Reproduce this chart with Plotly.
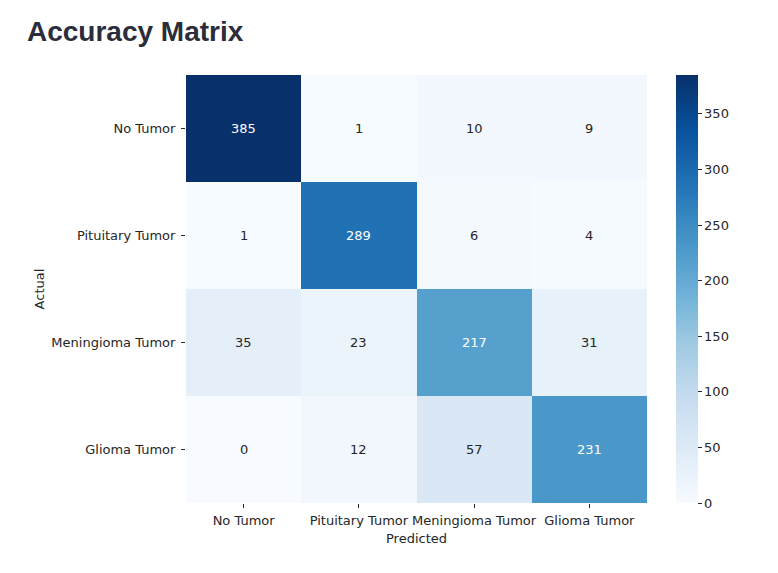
import plotly.graph_objects as go

categories = ["No Tumor", "Pituitary Tumor", "Meningioma Tumor", "Glioma Tumor"]
values = [
    [385, 1, 10, 9],
    [1, 289, 6, 4],
    [35, 23, 217, 31],
    [0, 12, 57, 231],
]
cbar_ticks = [0, 50, 100, 150, 200, 250, 300, 350]

blues = ["#f7fbff", "#deebf7", "#c6dbef", "#9ecae1", "#6baed6",
         "#4292c6", "#2171b5", "#08519c", "#08306b"]
colorscale = [[i / (len(blues) - 1), c] for i, c in enumerate(blues)]

vmax = max(max(r) for r in values)
vmin = min(min(r) for r in values)

fig = go.Figure()
fig.add_trace(go.Heatmap(
    z=values, x=categories, y=categories,
    colorscale=colorscale, zmin=vmin, zmax=vmax,
    xgap=0, ygap=0,
    colorbar=dict(
        thickness=22, len=1.0, lenmode="fraction", y=0.5, yanchor="middle",
        x=1.062, xanchor="left", xpad=0, ypad=0, outlinewidth=0,
        tickvals=cbar_ticks, ticks="outside", ticklen=4, tickcolor="#262626",
        tickfont=dict(family="DejaVu Sans", size=13, color="#262626"),
    ),
    hoverongaps=False,
))

annotations = []
for i, row in enumerate(values):
    for j, v in enumerate(row):
        annotations.append(dict(
            x=categories[j], y=categories[i], text=str(v), showarrow=False,
            font=dict(family="DejaVu Sans", size=13,
                      color="white" if v > vmax * 0.5 else "#262626"),
        ))

fig.update_layout(
    width=778, height=573,
    margin=dict(l=178, r=139, t=67, b=78),
    paper_bgcolor="white", plot_bgcolor="white",
    title=dict(text="<b>Accuracy Matrix</b>", x=19 / 778, xanchor="left",
               y=1 - 23 / 573, yanchor="middle",
               font=dict(family="Liberation Sans", size=28, color="#2b2d3a")),
    annotations=annotations,
    xaxis=dict(title=dict(text="Predicted", standoff=7,
                          font=dict(family="DejaVu Sans", size=13, color="#262626")),
               ticks="outside", ticklen=4, tickcolor="#262626",
               ticklabelstandoff=1,
               tickfont=dict(family="DejaVu Sans", size=13, color="#262626"),
               showgrid=False, zeroline=False, showline=False),
    yaxis=dict(title=dict(text="Actual", standoff=3,
                          font=dict(family="DejaVu Sans", size=13, color="#262626")),
               autorange="reversed",
               ticks="outside", ticklen=4, tickcolor="#262626",
               ticklabelstandoff=3,
               tickfont=dict(family="DejaVu Sans", size=13, color="#262626"),
               showgrid=False, zeroline=False, showline=False),
)

fig.write_html("out.html")
